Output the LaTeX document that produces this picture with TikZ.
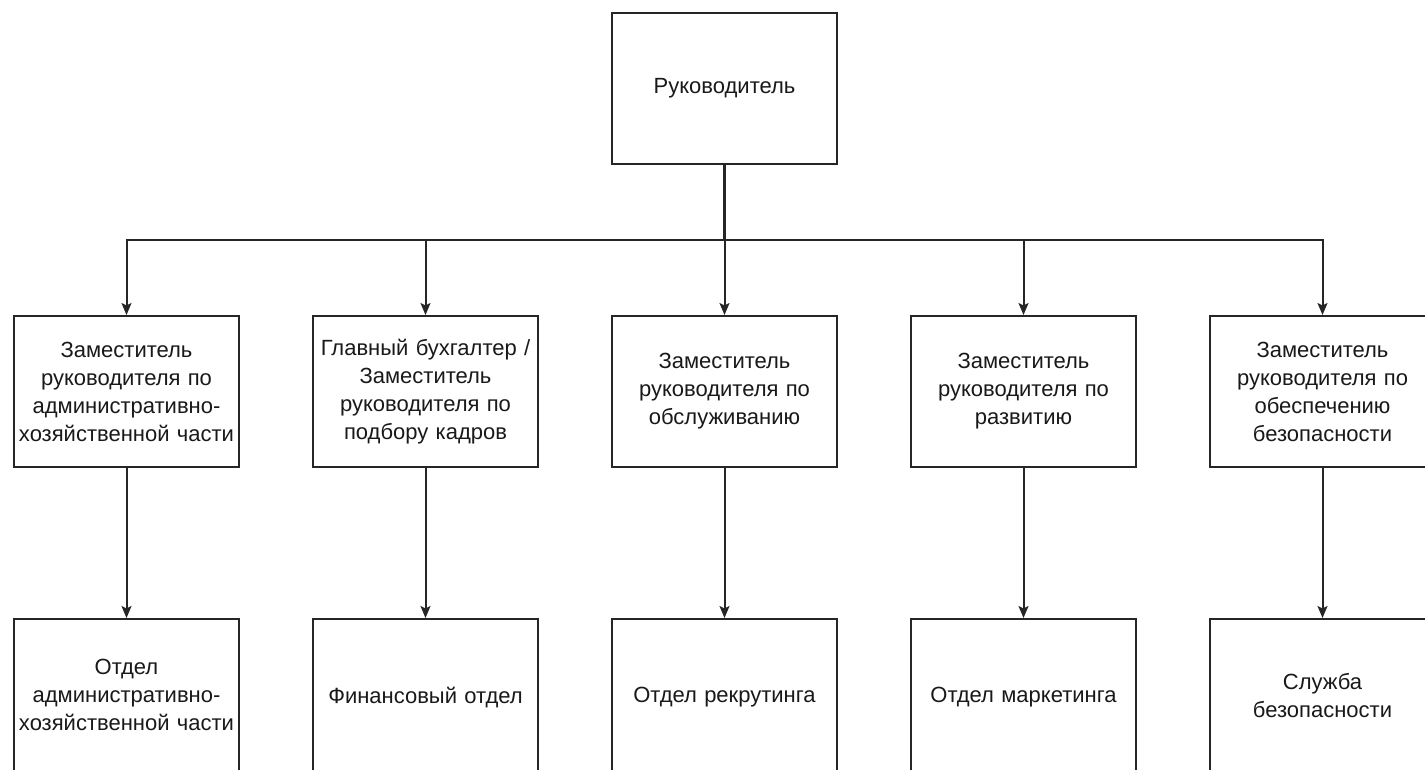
\documentclass[tikz,border=0pt]{standalone}
\usepackage{fontspec}
\setmainfont{Liberation Sans}
\usetikzlibrary{arrows.meta}
\newcommand{\dpfix}{\rule[-8pt]{0pt}{8pt}}
\begin{document}
\begin{tikzpicture}[x=1pt,y=-1pt,
  box/.style={draw=black!85,line width=2pt,fill=white,minimum width=225pt,minimum height=151pt,
    inner sep=0pt,text width=224pt,align=center,font=\fontsize{22}{28}\selectfont,text=black!90},
  lowbox/.style={box,minimum height=160pt},
  conn/.style={draw=black!85,line width=2pt},
  arr/.style={conn,-{Stealth[length=12pt,width=10pt,inset=2.5pt]}}]
\useasboundingbox (0,0) rectangle (1425,769);
\clip (0,0) rectangle (1425,769);
\node[box] (top) at (724.5,88) {Руководитель};
\node[box] (m1) at (126.5,391.5) {Заместитель\\руководителя по\\административно-\\хозяйственной части};
\node[box] (m2) at (425.5,391.5) {Главный бухгалтер /\\Заместитель\\руководителя по\\подбору кадров};
\node[box] (m3) at (724.5,391.5) {Заместитель\\руководителя по\\обслуживанию};
\node[box] (m4) at (1023.5,391.5) {Заместитель\\руководителя по\\развитию};
\node[box] (m5) at (1322.5,391.5) {Заместитель\\руководителя по\\обеспечению\\безопасности};
\node[lowbox] (b1) at (126.5,699) {Отдел\\административно-\\хозяйственной части\dpfix};
\node[lowbox] (b2) at (425.5,699) {Финансовый отдел\dpfix};
\node[lowbox] (b3) at (724.5,699) {Отдел рекрутинга\dpfix};
\node[lowbox] (b4) at (1023.5,699) {Отдел маркетинга\dpfix};
\node[lowbox] (b5) at (1322.5,699) {Служба\\безопасности\dpfix};
\coordinate (bus) at (724.5,240);
\draw[conn,line width=3pt] (top.south) -- (bus);
\draw[arr] (bus) -| (m1.north);
\draw[arr] (bus) -| (m2.north);
\draw[arr] (bus) -- (m3.north);
\draw[arr] (bus) -| (m4.north);
\draw[arr] (bus) -| (m5.north);
\draw[arr] (m1.south) -- (b1.north);
\draw[arr] (m2.south) -- (b2.north);
\draw[arr] (m3.south) -- (b3.north);
\draw[arr] (m4.south) -- (b4.north);
\draw[arr] (m5.south) -- (b5.north);
\end{tikzpicture}
\end{document}
